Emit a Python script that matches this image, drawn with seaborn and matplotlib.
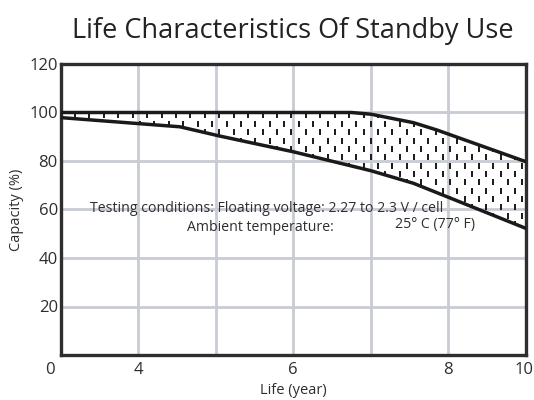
import numpy as np
import pandas as pd
import matplotlib
matplotlib.use("Agg")
import matplotlib.pyplot as plt
import matplotlib.transforms as mtransforms
import seaborn as sns

# Upper and lower bounds of the capacity band
upper_years = [3.0, 6.75, 7.0, 7.55, 7.85, 9.0]
upper_capacity = [100.0, 100.0, 99.3, 95.8, 92.8, 79.7]

lower_years = [3.0, 4.54, 5.05, 6.0, 7.0, 7.55, 9.0]
lower_capacity = [97.9, 94.1, 90.3, 83.8, 76.0, 70.8, 52.2]

x_tick_pos = [2.86, 4, 6, 8, 8.97]
x_tick_labels = ["0", "4", "6", "8", "10"]
x_grid = [4, 5, 6, 7, 8]
y_ticks = [20, 40, 60, 80, 100, 120]

TEXT = "#2e2e2e"
GRID = "#c8ccd3"

sns.set_theme(style="white")
plt.rcParams["font.family"] = ["Open Sans", "DejaVu Sans"]

fig = plt.figure(figsize=(5.34, 4.0), dpi=100)
ax = fig.add_axes([0.1135, 0.1125, 0.8715, 0.7275])

upper_df = pd.DataFrame({"year": upper_years, "capacity": upper_capacity})
lower_df = pd.DataFrame({"year": lower_years, "capacity": lower_capacity})

# band shape, used to clip the dotted texture
xs = np.linspace(3.0, 9.0, 200)
up = np.interp(xs, upper_years, upper_capacity)
lo = np.interp(xs, lower_years, lower_capacity)
band = ax.fill_between(xs, lo, up, facecolor="none", edgecolor="none")

# dotted texture inside the band
gx, gy = np.meshgrid(np.arange(3.0, 9.1, 0.186), np.arange(98.8, 40, -3.45))
gx = gx + (np.arange(gx.shape[0])[:, None] % 2) * 0.093
dash = [(-0.22, -0.5), (0.22, -0.5), (0.22, 0.5), (-0.22, 0.5)]
dots = ax.scatter(gx.ravel(), gy.ravel(), marker=dash, s=18, color="#1e1e1e",
                  linewidths=0, zorder=3)
dots.set_clip_path(band.get_paths()[0], ax.transData)

sns.lineplot(data=upper_df, x="year", y="capacity", ax=ax, color="#1a1a1a",
             lw=2.5, zorder=4)
sns.lineplot(data=lower_df, x="year", y="capacity", ax=ax, color="#1a1a1a",
             lw=2.5, zorder=4)

for gxv in x_grid:
    ax.axvline(gxv, color=GRID, lw=2.0, zorder=0)
ax.set_xticks([])
ax.set_yticks(y_ticks)
ax.set_xlim(3, 9)
ax.set_ylim(0, 120)
ax.grid(which="major", axis="y", color=GRID, lw=2.0)
ax.set_axisbelow(True)

# x labels as text so the outer ones ("0", "10") can sit past the axis edges
lab_tr = mtransforms.offset_copy(ax.get_xaxis_transform(), fig=fig, y=-5, units="points")
for xp, lab in zip(x_tick_pos, x_tick_labels):
    ax.text(xp, 0, lab, transform=lab_tr, ha="center", va="top",
            fontsize=12, color=TEXT, clip_on=False)

ax.tick_params(axis="both", length=0, labelsize=12, labelcolor=TEXT)
ax.tick_params(axis="y", pad=2)

for sp in ax.spines.values():
    sp.set_color("#2e2e2e")
    sp.set_linewidth(2.4)

ax.set_xlabel("Life (year)", fontsize=10.5, color=TEXT, labelpad=20)
ax.set_ylabel("Capacity (%)", fontsize=10.5, color=TEXT, labelpad=4)
ax.set_title("Life Characteristics Of Standby Use", fontsize=19.5, color="#222222", pad=19)

ax.text(3.38, 60.6, "Testing conditions: Floating voltage: 2.27 to 2.3 V / cell",
        fontsize=10.2, color=TEXT, va="center", ha="left", zorder=5)
ax.text(4.63, 52.4, "Ambient temperature:", fontsize=10.2, color=TEXT,
        va="center", ha="left", zorder=5)
ax.text(7.31, 53.8, "25\u00b0 C (77\u00b0 F)", fontsize=10.2, color=TEXT,
        va="center", ha="left", zorder=5)

fig.savefig("out.png", dpi=100)
